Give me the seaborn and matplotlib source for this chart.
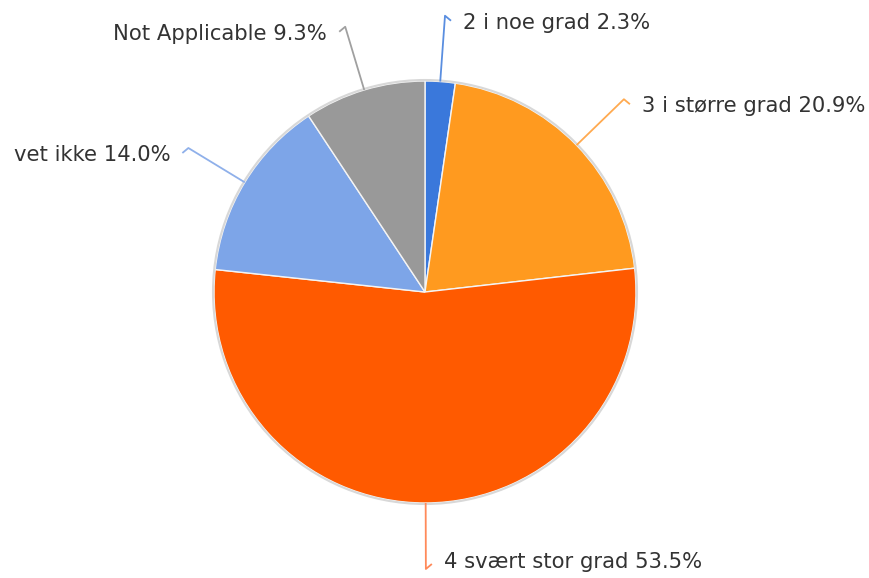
import numpy as np
import matplotlib
matplotlib.use("Agg")
import matplotlib.pyplot as plt
import seaborn as sns

categories = ["2 i noe grad", "3 i større grad", "4 svært stor grad", "vet ikke", "Not Applicable"]
values = [2.3, 20.9, 53.5, 14.0, 9.3]
colors = ["#3a78db", "#ff9a1f", "#ff5a00", "#7da5e8", "#999999"]
line_colors = ["#5a8ee0", "#ffaa50", "#ff8a5a", "#8fb0ea", "#a0a0a0"]

sns.set_theme(style="white")
plt.rcParams['font.family'] = ['DejaVu Sans']

W, H = 869, 578
fig = plt.figure(figsize=(W / 100, H / 100), dpi=100)
ax = fig.add_axes([0, 0, 1, 1])

cx, cy, R = 425, H - 292, 211
wedges, _ = ax.pie(values, colors=colors, startangle=90, counterclock=False,
                   center=(cx, cy), radius=R, frame=True,
                   wedgeprops=dict(edgecolor='#f4f4f4', linewidth=1.0))
ax.set_xlim(0, W)
ax.set_ylim(0, H)
ax.set_aspect('equal')
ax.axis('off')
ring = plt.Circle((cx, cy), R + 1, fill=False, edgecolor='#d8d8d8', linewidth=1.5)
ax.add_patch(ring)

total = sum(values)
cum = 0
L = 66
for cat, v, lc in zip(categories, values, line_colors):
    mid = (cum + v / 2) / total * 360
    cum += v
    th = np.deg2rad(90 - mid)
    dx, dy = np.cos(th), np.sin(th)
    x0, y0 = cx + R * dx, cy + R * dy
    x1, y1 = cx + (R + L) * dx, cy + (R + L) * dy
    side = 1 if dx >= -0.01 else -1
    ty = y1 - 7 * np.sign(dy)
    ax.plot([x0, x1, x1 + side * 6], [y0, y1, y1 - 5 * np.sign(dy)], color=lc, lw=1.3,
            solid_capstyle='butt')
    ax.text(x1 + side * 18, ty, f"{cat} {v:.1f}%", ha='left' if side > 0 else 'right',
            va='center', fontsize=15.2, color='#333333')

fig.savefig("out.png", dpi=100, facecolor='white')
